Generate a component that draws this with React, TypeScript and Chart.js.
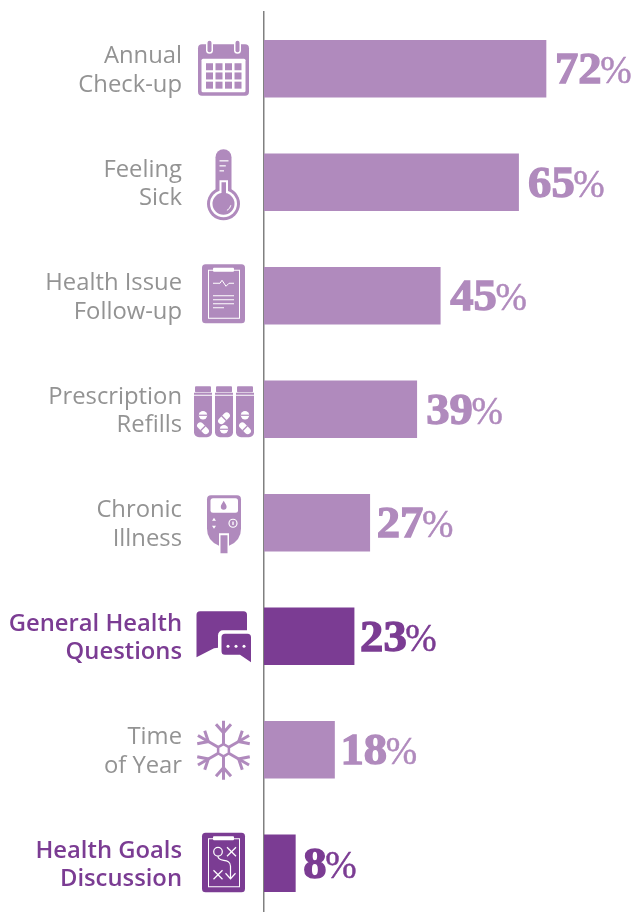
import React, { useEffect, useRef } from "react";
import { Chart, registerables } from "chart.js";

Chart.register(...registerables);

const categories: string[][] = [
  ["Annual", "Check-up"],
  ["Feeling", "Sick"],
  ["Health Issue", "Follow-up"],
  ["Prescription", "Refills"],
  ["Chronic", "Illness"],
  ["General Health", "Questions"],
  ["Time", "of Year"],
  ["Health Goals", "Discussion"],
];
const percentages = [72, 65, 45, 39, 27, 23, 18, 8];
const highlighted = [false, false, false, false, false, true, false, true];
const iconNames = ["calendar", "thermometer", "chart", "bottles", "meter", "chat", "snow", "plan"];
const labelGaps = [9, 9.5, 10, 9.5, 7, 6, 6, 8];

const LIGHT = "#B08ABD";
const DARK = "#7B3C93";
const GREY = "#939393";

type C = CanvasRenderingContext2D;

function rr(c: C, x: number, y: number, w: number, h: number, r: any, color: string) {
  c.fillStyle = color;
  c.beginPath();
  c.roundRect(x, y, w, h, r);
  c.fill();
}
function line(c: C, pts: number[][], color: string, w: number) {
  c.strokeStyle = color;
  c.lineWidth = w;
  c.beginPath();
  pts.forEach((p, i) => (i ? c.lineTo(p[0], p[1]) : c.moveTo(p[0], p[1])));
  c.stroke();
}
function circle(c: C, x: number, y: number, r: number, color: string) {
  c.fillStyle = color;
  c.beginPath();
  c.arc(x, y, r, 0, Math.PI * 2);
  c.fill();
}
function pillRound(c: C, x: number, y: number, col: string) {
  circle(c, x, y, 4.2, "#fff");
  c.fillStyle = col;
  c.fillRect(x - 4.5, y - 0.6, 9, 1.2);
}
function capsule(c: C, x: number, y: number, ang: number, col: string) {
  c.save();
  c.translate(x, y);
  c.rotate(ang);
  rr(c, -7, -3.2, 14, 6.4, 3.2, "#fff");
  c.fillStyle = col;
  c.fillRect(-0.6, -3.5, 1.2, 7);
  c.restore();
}

const drawIcon: Record<string, (c: C, y: number, col: string) => void> = {
  calendar(c, y, col) {
    rr(c, 198, y - 24.5, 51, 51.5, 4, col);
    rr(c, 201.5, y - 10, 44, 33.5, 1.5, "#fff");
    for (let r = 0; r < 3; r++)
      for (let k = 0; k < 4; k++) {
        c.fillStyle = col;
        c.fillRect(206 + k * 9.5, y - 5.5 + r * 9.2, 7, 7);
      }
    [209.5, 237.5].forEach((x) => {
      rr(c, x - 3.5, y - 28, 7, 13, 3.5, "#fff");
      rr(c, x - 2, y - 28, 4, 11.5, 2, col);
    });
  },
  thermometer(c, y, col) {
    rr(c, 215.5, y - 33, 16, 45, [8, 8, 0, 0], col);
    circle(c, 223.5, y + 21.5, 16.5, col);
    circle(c, 223.5, y + 21.5, 13.5, "#fff");
    c.fillStyle = "#fff";
    c.fillRect(219.5, y - 2, 8.5, 16);
    circle(c, 223.5, y + 21.5, 11, col);
    c.fillStyle = col;
    c.fillRect(221.5, y, 4.5, 15);
    [[-22, 10], [-17, 7], [-12, 5]].forEach(([d, w]) => {
      c.fillStyle = "#fff";
      c.fillRect(219.5, y + d, w * 0.9, 1.2);
    });
    c.strokeStyle = "#fff";
    c.lineWidth = 1;
    c.beginPath();
    c.arc(223.5, y + 21.5, 7.5, 0.2, 1.1);
    c.stroke();
  },
  chart(c, y, col) {
    rr(c, 202, y - 31.5, 43, 59, 3.5, col);
    c.strokeStyle = "#fff";
    c.lineWidth = 1;
    c.strokeRect(208.5, y - 25.5, 31, 48);
    rr(c, 213, y - 28, 21, 4, 1, "#fff");
    line(c, [[213, y - 12.5], [220, y - 12.5], [222, y - 15.5], [226, y - 9.5], [229, y - 12.5], [234, y - 12.5]], "#fff", 1);
    [0, 4, 8].forEach((d) => line(c, [[213, y + d], [234, y + d]], "#fff", 1));
    line(c, [[213, y + 12], [224, y + 12]], "#fff", 1);
  },
  bottles(c, y, col) {
    [194, 215, 236].forEach((x, i) => {
      rr(c, x + 1, y - 23, 16, 6, 1, col);
      c.fillStyle = col;
      c.fillRect(x, y - 16.5, 18, 2);
      rr(c, x, y - 13.5, 18, 41.5, [0, 0, 5, 5], col);
      const mx = x + 9;
      if (i === 1) {
        capsule(c, mx, y + 9, -Math.PI / 4, col);
        pillRound(c, mx, y + 20, col);
      } else {
        pillRound(c, mx, y + 6, col);
        capsule(c, mx, y + 19, Math.PI / 4, col);
      }
    });
  },
  meter(c, y, col) {
    c.fillStyle = col;
    c.beginPath();
    c.moveTo(207, y - 23.5);
    c.quadraticCurveTo(207, y - 27.5, 211, y - 27.5);
    c.lineTo(237, y - 27.5);
    c.quadraticCurveTo(241, y - 27.5, 241, y - 23.5);
    c.lineTo(241, y + 6);
    c.quadraticCurveTo(241, y + 18, 229, y + 23);
    c.lineTo(219, y + 23);
    c.quadraticCurveTo(207, y + 18, 207, y + 6);
    c.closePath();
    c.fill();
    rr(c, 210.5, y - 24.5, 27.5, 14.5, 2.5, "#fff");
    c.fillStyle = col;
    c.beginPath();
    c.moveTo(223.7, y - 22);
    c.bezierCurveTo(222, y - 19, 220.8, y - 18, 220.8, y - 16);
    c.arc(223.7, y - 16, 2.9, Math.PI, 0, true);
    c.bezierCurveTo(226.6, y - 18, 225.4, y - 19, 223.7, y - 22);
    c.fill();
    c.strokeStyle = "#fff";
    c.lineWidth = 1.2;
    c.beginPath();
    c.arc(233, y + 0.5, 4, 0, Math.PI * 2);
    c.stroke();
    c.fillStyle = "#fff";
    c.fillRect(232.3, y - 1.2, 1.4, 3.4);
    c.beginPath();
    c.moveTo(212, y - 2);
    c.lineTo(216, y - 2);
    c.lineTo(214, y - 5);
    c.closePath();
    c.moveTo(212, y + 3);
    c.lineTo(216, y + 3);
    c.lineTo(214, y + 6);
    c.closePath();
    c.fill();
    c.fillRect(219, y + 10.5, 10, 21);
    c.fillStyle = col;
    c.fillRect(220.5, y + 12.5, 7, 18);
  },
  chat(c, y, col) {
    c.fillStyle = col;
    c.beginPath();
    c.moveTo(200, y - 25);
    c.lineTo(243.5, y - 25);
    c.quadraticCurveTo(247, y - 25, 247, y - 21.5);
    c.lineTo(247, y + 8);
    c.lineTo(214, y + 12);
    c.lineTo(196.5, y + 21);
    c.lineTo(196.5, y - 21.5);
    c.quadraticCurveTo(196.5, y - 25, 200, y - 25);
    c.fill();
    rr(c, 218, y - 6, 36, 30, 5, "#fff");
    c.fillStyle = col;
    c.beginPath();
    c.roundRect(221.5, y - 2.5, 29.5, 21, 3.5);
    c.moveTo(251, y + 15);
    c.lineTo(251, y + 26);
    c.lineTo(240, y + 18.5);
    c.closePath();
    c.fill();
    [228, 236, 244].forEach((x) => circle(c, x, y + 10, 1.5, "#fff"));
  },
  snow(c, y, col) {
    const cx = 223.5;
    const cy = y + 0.5;
    c.lineCap = "butt";
    for (let i = 0; i < 6; i++) {
      c.save();
      c.translate(cx, cy);
      c.rotate((i * Math.PI) / 3);
      line(c, [[0, -6], [0, -29.5]], col, 3);
      line(c, [[-7.5, -26], [0, -17.5], [7.5, -26]], col, 3);
      c.restore();
    }
    c.strokeStyle = col;
    c.lineWidth = 2.5;
    c.beginPath();
    for (let i = 0; i < 6; i++) {
      const a = (i * Math.PI) / 3 - Math.PI / 2;
      const x = cx + Math.cos(a) * 6.2;
      const yy = cy + Math.sin(a) * 6.2;
      if (i) c.lineTo(x, yy);
      else c.moveTo(x, yy);
    }
    c.closePath();
    c.stroke();
  },
  plan(c, y, col) {
    rr(c, 202, y - 30.5, 43, 59.5, 3.5, col);
    c.strokeStyle = "#fff";
    c.lineWidth = 1;
    c.strokeRect(208.5, y - 24.5, 31, 48);
    rr(c, 213, y - 27, 21, 4, 1, "#fff");
    c.lineWidth = 1.2;
    c.beginPath();
    c.arc(218, y - 11.5, 4.3, 0, Math.PI * 2);
    c.stroke();
    const x1 = (x: number, yy: number) => {
      line(c, [[x - 4.5, yy - 4.5], [x + 4.5, yy + 4.5]], "#fff", 1.2);
      line(c, [[x - 4.5, yy + 4.5], [x + 4.5, yy - 4.5]], "#fff", 1.2);
    };
    x1(231.5, y - 11.5);
    x1(218, y + 11.5);
    c.strokeStyle = "#fff";
    c.beginPath();
    c.moveTo(218, y - 7);
    c.bezierCurveTo(218, y, 230.5, y - 6, 230.5, y + 3);
    c.lineTo(230.5, y + 15);
    c.stroke();
    line(c, [[225.5, y + 10], [230.5, y + 15.5], [235.5, y + 10]], "#fff", 1.2);
  },
};

const decorations = {
  id: "decorations",
  afterDatasetsDraw(chart: any) {
    const c: C = chart.ctx;
    const yScale = chart.scales.y;
    const bars = chart.getDatasetMeta(0).data;
    percentages.forEach((v, i) => {
      const col = highlighted[i] ? DARK : LIGHT;
      const cy = yScale.getPixelForTick(i);
      c.save();
      drawIcon[iconNames[i]](c, cy, col);
      c.restore();
      c.save();
      c.textAlign = "left";
      c.textBaseline = "alphabetic";
      c.fillStyle = col;
      c.strokeStyle = col;
      const x = bars[i].x + labelGaps[i];
      const base = cy + 14.5;
      const sx = 1.06;
      c.font = "bold 44px 'Liberation Serif'";
      c.lineWidth = 1.3;
      const digits = String(v);
      const w = c.measureText(digits).width * sx;
      c.save();
      c.translate(x, base);
      c.scale(sx, 1);
      c.fillText(digits, 0, 0);
      c.strokeText(digits, 0, 0);
      c.restore();
      c.save();
      c.translate(x + w - 1.5, base);
      c.scale(0.92, 1);
      c.font = "41px 'Liberation Serif'";
      c.lineWidth = 0.5;
      c.fillText("%", 0, 0);
      c.strokeText("%", 0, 0);
      c.restore();
      c.restore();
    });
  },
};

export default function App() {
  const ref = useRef<HTMLCanvasElement>(null);
  useEffect(() => {
    const chart = new Chart(ref.current!, {
      type: "bar",
      data: {
        labels: categories,
        datasets: [
          {
            data: percentages,
            backgroundColor: highlighted.map((h) => (h ? DARK : LIGHT)),
            barThickness: 57,
            borderWidth: 0,
          },
        ],
      },
      plugins: [decorations],
      options: {
        indexAxis: "y",
        animation: false,
        responsive: false,
        layout: { padding: { top: 12, right: 14.5, bottom: 0, left: 0 } },
        plugins: { legend: { display: false }, tooltip: { enabled: false } },
        scales: {
          x: { display: false, min: 0, max: 90 },
          y: {
            afterFit: (s: any) => {
              s.width = 264;
              s.paddingTop = 0;
              s.paddingBottom = 0;
            },
            grid: { display: false, drawTicks: false },
            border: { display: true, color: "#808080", width: 1.5 },
            ticks: {
              padding: 82,
              labelOffset: 2,
              crossAlign: "near",
              autoSkip: false,
              color: (ctx: any) => (highlighted[ctx.index] ? DARK : GREY),
              font: (ctx: any) => ({
                family: "'Open Sans'",
                size: 23.8,
                lineHeight: 28.5 / 23.8,
                weight: highlighted[ctx.index] ? "600" : "400",
              }),
            },
          },
        },
      } as any,
    });
    return () => chart.destroy();
  }, []);
  return (
    <div style={{ position: "absolute", left: 0, top: 0, width: 631, height: 912, overflow: "hidden", background: "#fff" }}>
      <canvas ref={ref} width={631} height={920} style={{ display: "block" }} />
    </div>
  );
}
